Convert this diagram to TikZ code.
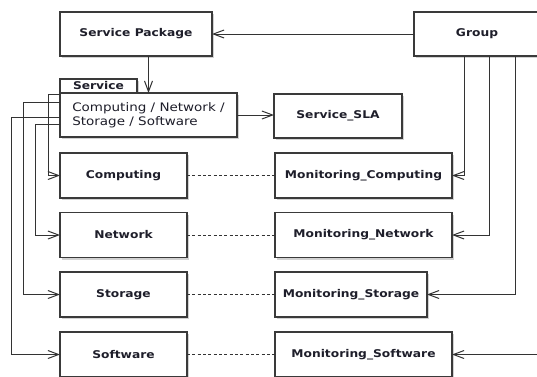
\documentclass[tikz,border=0pt]{standalone}
\usepackage{fontspec}
\setmainfont{DejaVu Sans}
\newfontfamily\lblfont[FakeStretch=1.15]{DejaVu Sans}
\usetikzlibrary{arrows.meta,shadows,calc}
\definecolor{boxgray}{HTML}{3A3A3A}
\definecolor{linegray}{HTML}{333333}
\definecolor{txt}{HTML}{1E1E2A}
\tikzset{
  box/.style={draw=boxgray, line width=0.9pt, fill=white, rectangle, outer sep=0pt, inner sep=0pt,
    drop shadow={shadow xshift=1.5pt, shadow yshift=-1.5pt, fill=black!35, opacity=0.5},
    font=\lblfont\bfseries\fontsize{8}{10}\selectfont, text=txt},
  regtext/.style={font=\lblfont\fontsize{8.8}{10.5}\selectfont},
  conn/.style={draw=linegray, line width=0.75pt},
  arr/.style={conn, -{Straight Barb[length=8pt,width=6pt]}},
  dashlink/.style={draw=linegray, line width=0.6pt, dash pattern=on 2.25pt off 1.75pt},
  wbox/.style={box, minimum width=132.75pt, minimum height=33.75pt},
  nbox/.style={box, minimum width=95.25pt, minimum height=33.75pt}
}
\begin{document}
\begin{tikzpicture}[x=0.75pt, y=-0.75pt]
\useasboundingbox (0,0) rectangle (537,376);
\clip (0,0) rectangle (537,376);
\fill[white] (0,0) rectangle (537,376);
% top row
\node[box, minimum width=114pt, minimum height=33pt] (pkg) at (136,34) {Service Package};
\node[box, minimum width=94.5pt, minimum height=33pt] (group) at (477,34) {Group};
% service
\node[box, anchor=south west, minimum width=57.75pt, minimum height=10.5pt, inner xsep=9.75pt] (tab) at (60,93) {Service};
\node[box, regtext, minimum width=132.75pt, minimum height=33pt, align=left] (svc) at (148.5,115) {Computing / Network /\\Storage / Software};
\node[box, minimum width=96pt, minimum height=33pt] (sla) at (338,116) {Service\_SLA};
% left column
\node[nbox] (comp) at (123.5,175.5) {Computing};
\node[nbox] (net) at (123.5,235) {Network};
\node[nbox] (stor) at (123.5,294.5) {Storage};
\node[nbox] (soft) at (123.5,354.5) {Software};
% right column
\node[wbox] (mcomp) at (363.5,175.5) {Monitoring\_Computing};
\node[wbox] (mnet) at (363.5,235) {Monitoring\_Network};
\node[box, minimum width=114pt, minimum height=33.75pt] (mstor) at (351,294.5) {Monitoring\_Storage};
\node[wbox] (msoft) at (363.5,354.5) {Monitoring\_Software};
\coordinate (rin) at (545,354.5);
% connectors
\draw[arr] (group.west) -- (pkg.east);
\draw[arr] (pkg.south -| svc.north) -- (svc.north);
\draw[arr] (svc.east) -- (svc.east -| sla.west);
\draw[arr] ($(svc.west)+(0,-21)$) -| ($(comp.west)+(-12,0)$) -- (comp.west);
\draw[arr] ($(svc.west)+(0,9)$) -| ($(net.west)+(-25,0)$) -- (net.west);
\draw[arr] ($(svc.west)+(0,-13)$) -| ($(stor.west)+(-37,0)$) -- (stor.west);
\draw[arr] ($(svc.west)+(0,2)$) -| ($(soft.west)+(-49,0)$) -- (soft.west);
\draw[dashlink] (comp.east) -- (mcomp.west);
\draw[dashlink] (net.east) -- (mnet.west);
\draw[dashlink] (stor.east) -- (mstor.west);
\draw[dashlink] (soft.east) -- (msoft.west);
\draw[arr] ($(group.south west)+(50,0)$) |- (mcomp.east);
\draw[arr] ($(group.south west)+(75,0)$) |- (mnet.east);
\draw[arr] ($(group.south west)+(101,0)$) |- (mstor.east);
\draw[arr] (rin) -- (msoft.east);
\end{tikzpicture}
\end{document}
